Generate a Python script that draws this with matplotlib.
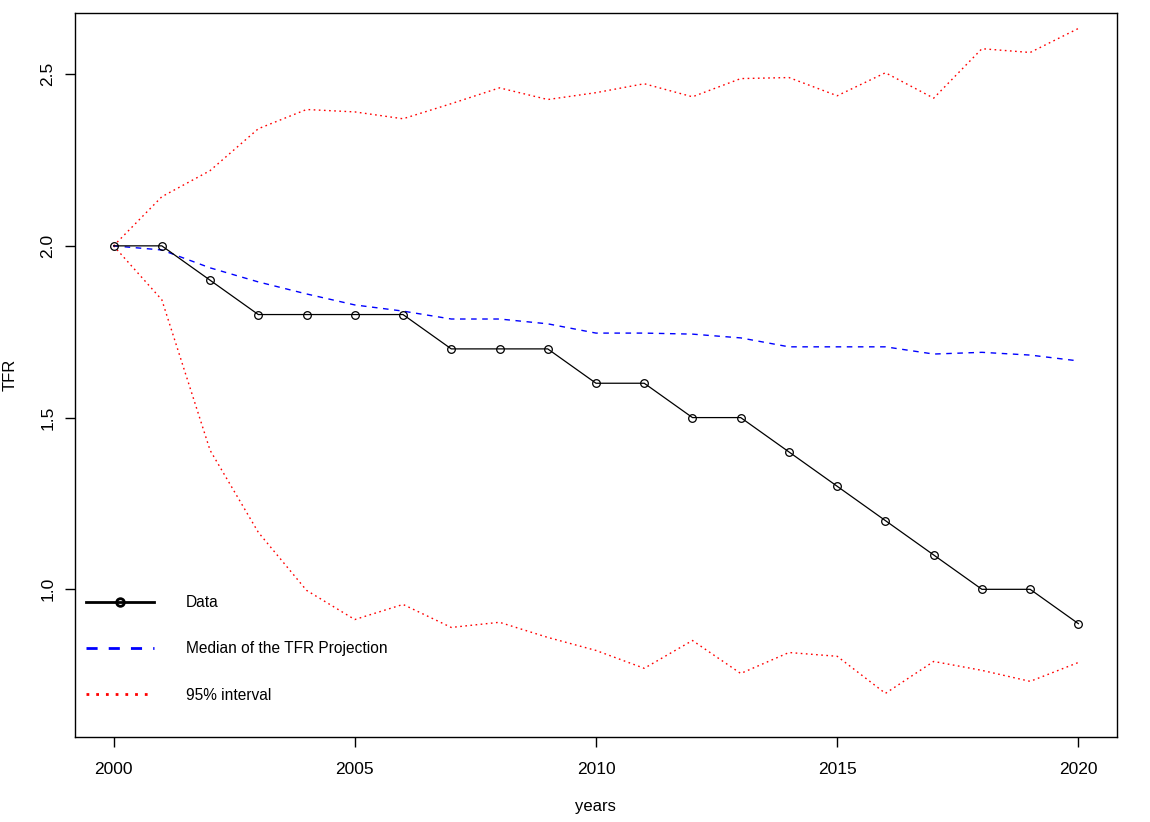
import matplotlib
matplotlib.use("Agg")
import matplotlib.pyplot as plt
from matplotlib.lines import Line2D

years = list(range(2000, 2021))
tfr_data = [2.0, 2.0, 1.9, 1.8, 1.8, 1.8, 1.8, 1.7, 1.7, 1.7, 1.6,
            1.6, 1.5, 1.5, 1.4, 1.3, 1.2, 1.1, 1.0, 1.0, 0.9]
tfr_median = [2.0, 1.988, 1.936, 1.895, 1.86, 1.828, 1.81, 1.787, 1.787, 1.773, 1.746,
              1.746, 1.743, 1.732, 1.706, 1.706, 1.706, 1.685, 1.69, 1.682, 1.665]
tfr_upper = [2.0, 2.143, 2.219, 2.341, 2.397, 2.39, 2.37, 2.414, 2.46, 2.426, 2.446,
             2.472, 2.434, 2.487, 2.49, 2.437, 2.504, 2.43, 2.574, 2.563, 2.633]
tfr_lower = [2.0, 1.843, 1.405, 1.166, 0.997, 0.912, 0.956, 0.889, 0.904, 0.86, 0.822,
             0.77, 0.851, 0.755, 0.816, 0.805, 0.697, 0.79, 0.764, 0.732, 0.787]
legend_labels = ["Data", "Median of the TFR Projection", "95% interval"]

plt.rcParams["font.family"] = ["Liberation Sans", "DejaVu Sans"]

fig = plt.figure(figsize=(11.5, 8.22), dpi=100)
ax = fig.add_axes([0.0652, 0.1034, 0.9061, 0.8808])

ax.plot(years, tfr_upper, color="red", lw=1.0, linestyle=(0, (1.2, 2.5)))
ax.plot(years, tfr_lower, color="red", lw=1.0, linestyle=(0, (1.2, 2.5)))
ax.plot(years, tfr_median, color="blue", lw=1.0, linestyle=(0, (4, 4)))
ax.plot(years, tfr_data, color="black", lw=0.9, marker="o", markersize=5.5,
        markerfacecolor="none", markeredgewidth=0.9)

ax.set_xlim(1999.2, 2020.8)
ax.set_ylim(0.57, 2.678)
ax.set_xticks([2000, 2005, 2010, 2015, 2020])
ax.set_yticks([1.0, 1.5, 2.0, 2.5])
ax.set_yticklabels(["1.0", "1.5", "2.0", "2.5"], rotation=90, va="center")
ax.tick_params(direction="out", length=7, width=1, labelsize=12.5, pad=7)
ax.tick_params(axis="x", pad=11)
for s in ax.spines.values():
    s.set_linewidth(1)

# axis titles placed like R's mtext lines
fig.text(0.518, 0.0185, "years", fontsize=12, ha="center", va="center")
fig.text(0.0087, 0.5438, "TFR", fontsize=12, ha="center", va="center", rotation=90)

handles = [
    Line2D([], [], color="black", lw=2, marker="o", markersize=5.5,
           markerfacecolor="none", markeredgewidth=2),
    Line2D([], [], color="blue", lw=2, linestyle=(0, (4, 4))),
    Line2D([], [], color="red", lw=2, linestyle=(0, (1, 2.5))),
]
ax.legend(handles, legend_labels, loc="upper left", bbox_to_anchor=(-0.003, 0.215),
          frameon=False, fontsize=11.2, handlelength=4.4, handletextpad=2.05,
          labelspacing=2.0, borderaxespad=0.5)

fig.savefig("out.png", dpi=100)
